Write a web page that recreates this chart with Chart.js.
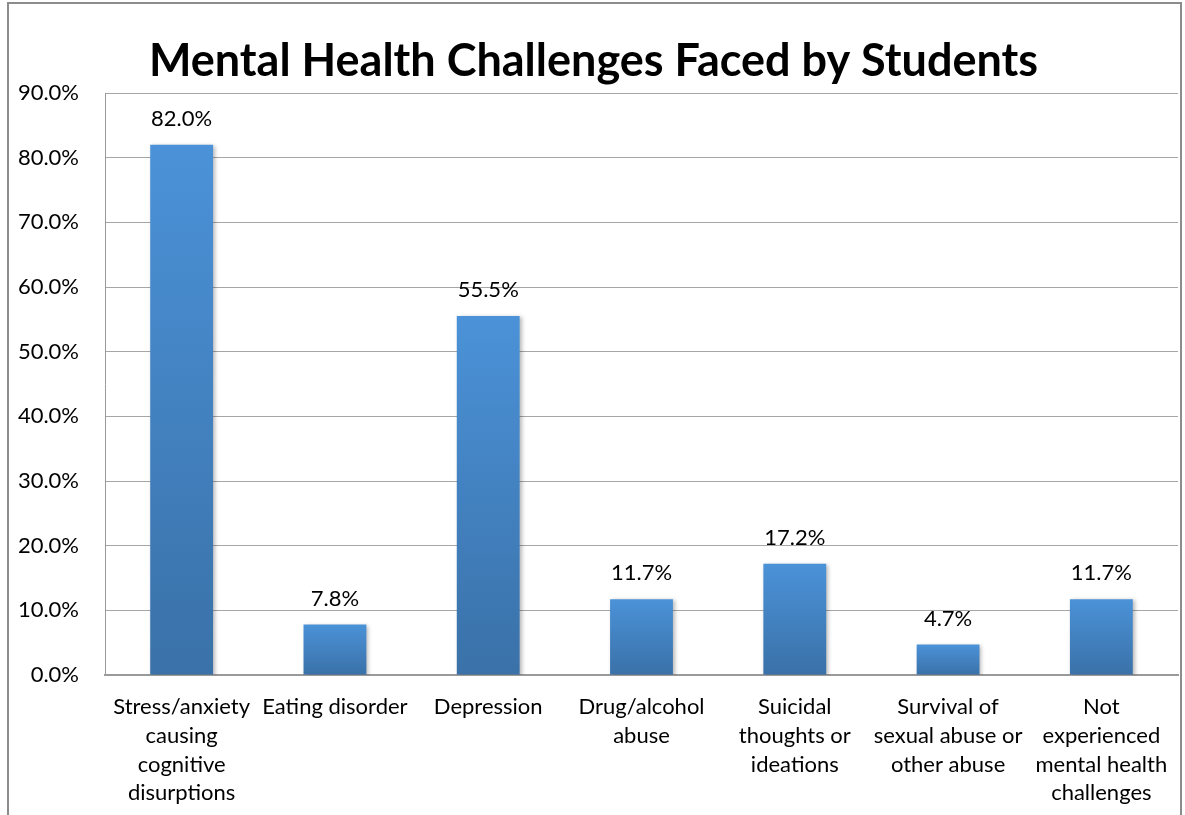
<!DOCTYPE html>
<html>
<head>
<meta charset="utf-8">
<script src="https://cdn.jsdelivr.net/npm/chart.js@4/dist/chart.umd.min.js"></script>
<style>
  html, body { margin: 0; padding: 0; background: #fff; }
  #frame {
    position: absolute; left: 7px; top: 2px;
    width: 1171px; height: 813px;
    border: 2px solid #8c8c8c; border-bottom: none;
  }
  canvas { display: block; }
</style>
</head>
<body>
<div id="frame"><canvas id="mhChart" width="1171" height="813"></canvas></div>
<script>
// categories (wrapped like the original)
const categories = [
  ["Stress/anxiety", "causing", "cognitive", "disurptions"],
  ["Eating disorder"],
  ["Depression"],
  ["Drug/alcohol", "abuse"],
  ["Suicidal", "thoughts or", "ideations"],
  ["Survival of", "sexual abuse or", "other abuse"],
  ["Not", "experienced", "mental health", "challenges"]
];
// percent of students
const percentages = [82.0, 7.8, 55.5, 11.7, 17.2, 4.7, 11.7];
const yTicks = [0, 10, 20, 30, 40, 50, 60, 70, 80, 90];

const FONT = "Lato, 'Open Sans', sans-serif";

// gradient per bar, light at top, darker at the base
function barFill(c) {
  const ch = c.chart;
  if (!ch.chartArea) return "#4a8fd4";
  const y = ch.scales.y;
  const top = y.getPixelForValue(c.raw);
  const base = y.getPixelForValue(0);
  const g = ch.ctx.createLinearGradient(0, top, 0, base);
  g.addColorStop(0, "#4b92d8");
  g.addColorStop(1, "#3a71a8");
  return g;
}

// soft shadow + value labels over the bars
const barExtras = {
  id: "barExtras",
  beforeDatasetsDraw(chart) {
    const ctx = chart.ctx;
    ctx.save();
    ctx.shadowColor = "rgba(0,0,0,0.28)";
    ctx.shadowBlur = 4;
    ctx.shadowOffsetX = 2;
    ctx.shadowOffsetY = 1;
  },
  afterDatasetsDraw(chart) {
    const ctx = chart.ctx;
    ctx.restore();
    ctx.save();
    ctx.font = "22px " + FONT;
    ctx.fillStyle = "#000";
    ctx.textAlign = "center";
    ctx.textBaseline = "bottom";
    chart.getDatasetMeta(0).data.forEach((bar, i) => {
      ctx.fillText(percentages[i].toFixed(1) + "%", bar.x, bar.y - 15);
    });
    ctx.restore();
  }
};

new Chart(document.getElementById("mhChart"), {
  type: "bar",
  data: {
    labels: categories,
    datasets: [{
      data: percentages,
      backgroundColor: barFill,
      borderWidth: 0,
      barPercentage: 0.41,
      categoryPercentage: 1.0
    }]
  },
  options: {
    responsive: false,
    animation: false,
    layout: { padding: { left: 0, right: 2, top: 0, bottom: 0 } },
    plugins: {
      legend: { display: false },
      tooltip: { enabled: false },
      title: {
        display: true,
        text: "Mental Health Challenges Faced by Students",
        color: "#000",
        font: { family: FONT, size: 45, weight: "bold" },
        padding: { top: 30, bottom: 5 }
      }
    },
    scales: {
      x: {
        grid: { display: false, drawTicks: false },
        border: { display: true, color: "#9a9a9a", width: 2 },
        ticks: {
          color: "#000",
          font: { family: FONT, size: 22, lineHeight: 1.3 },
          padding: 18,
          maxRotation: 0,
          autoSkip: false
        },
        afterFit(s) {
          s.height = 142;
          s.paddingLeft = 0;
          s.paddingRight = 0;
        }
      },
      y: {
        min: 0,
        max: 90,
        afterBuildTicks(s) { s.ticks = yTicks.map(v => ({ value: v })); },
        grid: { color: "#a6a6a6", lineWidth: 1, drawTicks: false },
        border: { display: true, color: "#9a9a9a", width: 1 },
        ticks: {
          color: "#000",
          font: { family: FONT, size: 22 },
          padding: 26,
          callback: v => v.toFixed(1) + "%"
        },
        afterFit(s) { s.width = 96; }
      }
    }
  },
  plugins: [barExtras]
});
</script>
</body>
</html>
